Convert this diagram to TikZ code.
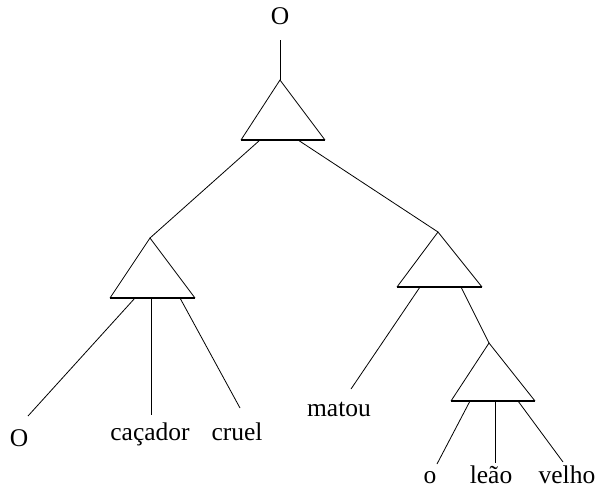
\documentclass[tikz,border=0pt]{standalone}
\usepackage{fontspec}
\setmainfont{Liberation Serif}
\begin{document}
\begin{tikzpicture}[x=1pt,y=-1pt,
  edge/.style={draw=black,line width=0.8pt},
  tri/.style={draw=black,line width=0.8pt},
  basebar/.style={draw=black,line width=1.6pt},
  word/.style={font=\fontsize{25.5}{30}\selectfont,anchor=base,inner sep=0pt}]
\useasboundingbox (0,0) rectangle (595,488);
% root label
\node[word] (root) at (280,24) {O};
\coordinate (rootlow) at (280,40);
% top triangle
\coordinate (tA) at (280,80);
\coordinate (tL) at (241,140);
\coordinate (tR) at (325,140);
\coordinate (tb1) at (260,140);
\coordinate (tb2) at (298,140);
% left subtree triangle
\coordinate (lA) at (150,238);
\coordinate (lL) at (110,298);
\coordinate (lR) at (195,298);
\coordinate (lb1) at (135,298);
\coordinate (lb2) at (151,298);
\coordinate (lb3) at (180,298);
% right subtree triangle
\coordinate (rA) at (438,232);
\coordinate (rL) at (397,287);
\coordinate (rR) at (482,287);
\coordinate (rb1) at (420,287);
\coordinate (rb2) at (461,287);
% object triangle
\coordinate (oA) at (489,343);
\coordinate (oL) at (451,401);
\coordinate (oR) at (535,401);
\coordinate (ob1) at (470,401);
\coordinate (ob2) at (495,401);
\coordinate (ob3) at (518,401);
% leaf words
\node[word] (w1) at (19,446) {O};
\node[word] (w2) at (150,440) {caçador};
\node[word] (w3) at (237,440) {cruel};
\node[word] (w4) at (339,416) {matou};
\node[word] (w5) at (430,483) {o};
\node[word] (w6) at (491,483) {leão};
\node[word] (w7) at (567,483) {velho};
% free ends of the leaf lines
\coordinate (e1) at (28,416);
\coordinate (e2) at (151,415);
\coordinate (e3) at (240,408);
\coordinate (e4) at (351,389);
\coordinate (e5) at (437,464);
\coordinate (e6) at (495,463);
\coordinate (e7) at (563,462);
% triangles
\foreach \a/\l/\r in {tA/tL/tR, lA/lL/lR, rA/rL/rR, oA/oL/oR}{
  \draw[tri] (\l) -- (\a) -- (\r);
  \draw[basebar] (\l) -- (\r);
}
% connectors
\draw[edge] (rootlow) -- (tA);
\draw[edge] (tb1) -- (lA);
\draw[edge] (tb2) -- (rA);
\draw[edge] (lb1) -- (e1);
\draw[edge] (lb2) -- (e2);
\draw[edge] (lb3) -- (e3);
\draw[edge] (rb1) -- (e4);
\draw[edge] (rb2) -- (oA);
\draw[edge] (ob1) -- (e5);
\draw[edge] (ob2) -- (e6);
\draw[edge] (ob3) -- (e7);
\end{tikzpicture}
\end{document}
